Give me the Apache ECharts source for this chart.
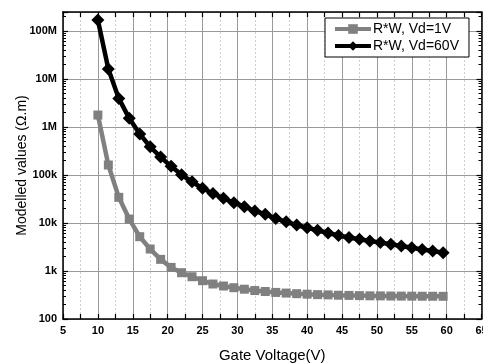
<!DOCTYPE html>
<html><head><meta charset="utf-8">
<script src="https://cdn.jsdelivr.net/npm/echarts@6/dist/echarts.min.js"></script>
<style>html,body{margin:0;padding:0;background:#fff}#c{width:483px;height:363px}</style>
</head><body><div id="c"></div>
<script>
const gateVoltage = [10,11.5,13,14.5,16,17.5,19,20.5,22,23.5,25,26.5,28,29.5,31,32.5,34,35.5,37,38.5,40,41.5,43,44.5,46,47.5,49,50.5,52,53.5,55,56.5,58,59.5];
const rwVd1 = [1.78e6,1.62e5,3.43e4,1.21e4,5.19e3,2.87e3,1.75e3,1.19e3,922,760,628,536,487,449,418,392,374,358,347,337,329,322,318,313,310,307,304,303,301,300,299,298,298,297];
const rwVd60 = [1.70e8,1.62e7,3.96e6,1.52e6,7.2e5,3.89e5,2.37e5,1.52e5,1.01e5,7.25e4,5.28e4,4.12e4,3.27e4,2.65e4,2.19e4,1.78e4,1.52e4,1.25e4,1.06e4,9.08e3,7.98e3,7.05e3,6.19e3,5.49e3,4.99e3,4.60e3,4.24e3,3.91e3,3.60e3,3.32e3,3.06e3,2.82e3,2.61e3,2.40e3];
const seriesNames = ['R*W, Vd=1V','R*W, Vd=60V'];
const xMin = 5, xMax = 65, xStep = 5;
const yMin = 100, yMax = 2.5e8;
const yTickLabels = ['100','1k','10k','100k','1M','10M','100M'];

const chart = echarts.init(document.getElementById('c'), null, {renderer:'canvas'});
const minorLog = [];
for (let e = 2; e <= 8; e++) for (let k = 2; k <= 9; k++) { const v = Math.log10(k) + e; if (v <= Math.log10(yMax)) minorLog.push(v); }
const font = 'Liberation Sans, Arial, sans-serif';
const axLine = {show:true, lineStyle:{color:'#000', width:1.5}};
function yFmt(v){ const e = Math.log10(v); const r = Math.round(e); if (Math.abs(e-r) > 1e-6) return ''; return yTickLabels[r-2] || ''; }
function zip(xs, ys){ return xs.map((x,i)=>[x, ys[i]]); }

chart.setOption({
  animation:false,
  backgroundColor:'#fff',
  textStyle:{fontFamily:font},
  grid:{left:63, right:1.5, top:12, bottom:44, containLabel:false, outerBoundsMode:'none'},
  legend:{
    orient:'vertical', left:325, top:18, width:145,
    data:seriesNames,
    borderColor:'#000', borderWidth:1, backgroundColor:'#fff', borderRadius:0,
    padding:[4,10,4,8], itemGap:3, itemWidth:36, itemHeight:12,
    lineStyle:{width:4},
    textStyle:{fontSize:14, color:'#000', fontFamily:font, padding:[0,0,0,-3]}
  },
  xAxis:[
    {type:'value', min:xMin, max:xMax, interval:xStep, position:'bottom',
     name:'Gate Voltage(V)', nameLocation:'middle', nameGap:29,
     nameTextStyle:{fontSize:15, color:'#000', fontFamily:font},
     axisLine:axLine,
     axisTick:{show:true, inside:true, length:5, lineStyle:{color:'#000', width:1.2}},
     minorTick:{show:true, splitNumber:2, length:5, lineStyle:{color:'#000', width:1.2}},
     axisLabel:{fontSize:11, fontWeight:'bold', color:'#000', margin:6, fontFamily:font},
     splitLine:{show:true, lineStyle:{color:'#9a9a9a', width:1}},
     minorSplitLine:{show:true, lineStyle:{color:'#cfcfcf', width:1, type:[2,2]}}},
    {type:'value', min:xMin, max:xMax, interval:xStep, position:'top',
     axisLine:axLine,
     axisTick:{show:true, inside:true, length:5, lineStyle:{color:'#000', width:1.2}},
     minorTick:{show:true, splitNumber:2, length:5, lineStyle:{color:'#000', width:1.2}},
     axisLabel:{show:false}, splitLine:{show:false}}
  ],
  yAxis:[
    {type:'log', logBase:10, min:yMin, max:yMax, splitNumber:8, position:'left',
     name:'Modelled values (\u03A9.m)', nameLocation:'middle', nameGap:34, nameRotate:90,
     nameMoveOverlap:false,
     nameTextStyle:{fontSize:14, color:'#000', fontFamily:font},
     axisLine:axLine,
     axisTick:{show:true, inside:true, length:5, lineStyle:{color:'#000', width:1.2}},
     axisLabel:{fontSize:11, fontWeight:'bold', color:'#000', margin:6, formatter:yFmt, fontFamily:font},
     splitLine:{show:true, lineStyle:{color:'#9a9a9a', width:1}}},
    {type:'log', logBase:10, min:yMin, max:yMax, splitNumber:8, position:'right',
     axisLine:axLine,
     axisTick:{show:true, inside:true, length:5, lineStyle:{color:'#000', width:1.2}},
     axisLabel:{show:false}, splitLine:{show:false}},
    {type:'value', min:Math.log10(yMin), max:Math.log10(yMax), position:'left',
     axisLine:{show:false}, axisLabel:{show:false}, splitLine:{show:false},
     axisTick:{show:true, inside:true, length:3, customValues:minorLog, lineStyle:{color:'#000', width:1}}},
    {type:'value', min:Math.log10(yMin), max:Math.log10(yMax), position:'right',
     axisLine:{show:false}, axisLabel:{show:false}, splitLine:{show:false},
     axisTick:{show:true, inside:true, length:3, customValues:minorLog, lineStyle:{color:'#000', width:1}}}
  ],
  series:[
    {name:seriesNames[0], type:'line', data:zip(gateVoltage, rwVd1),
     symbol:'rect', symbolSize:9, showAllSymbol:true,
     lineStyle:{color:'#808080', width:4.5}, itemStyle:{color:'#808080'}},
    {name:seriesNames[1], type:'line', data:zip(gateVoltage, rwVd60),
     symbol:'diamond', symbolSize:[13,13], showAllSymbol:true,
     lineStyle:{color:'#000', width:4.5}, itemStyle:{color:'#000'}}
  ]
});
</script>
</body></html>
